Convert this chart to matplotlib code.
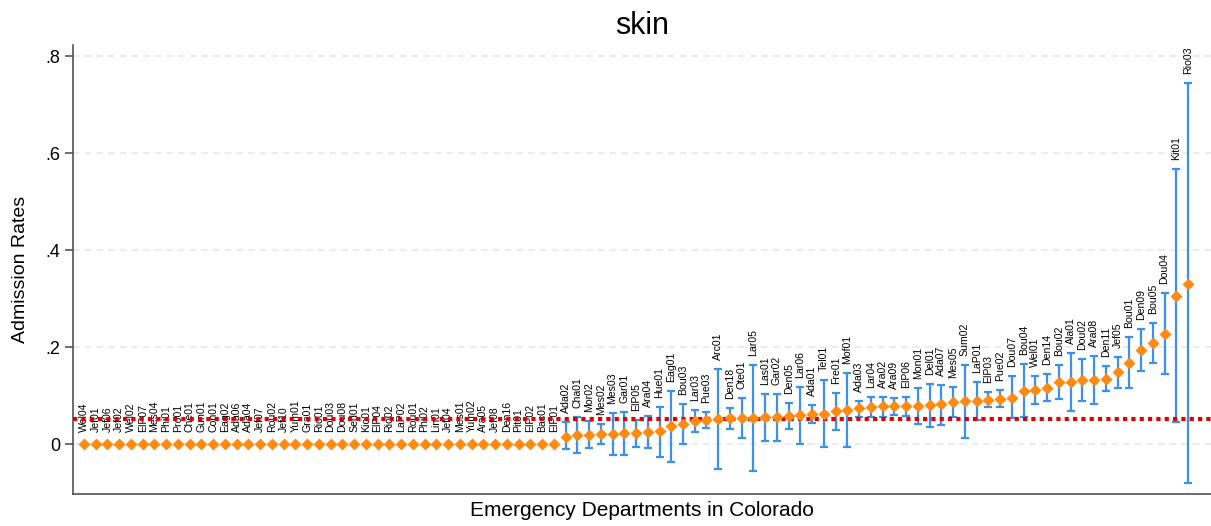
import numpy as np
import matplotlib
matplotlib.use("Agg")
import matplotlib.pyplot as plt

plt.rcParams["font.family"] = ["Liberation Sans", "DejaVu Sans"]

# departments with no admissions (rate 0, no interval)
zero_names = [
    "Wel04", "Jef01", "Jef06", "Jef02", "Wel02", "ElP07", "Mes04", "Phi01", "Pro01", "Che01",
    "Gun01", "Con01", "Eag02", "Ada06", "Ada04", "Jef07", "Rou02", "Jef10", "Yum01", "Gra01",
    "Rio01", "Dou03", "Dou08", "Sed01", "Kio01", "ElP04", "Rio02", "LaP02", "Rou01", "Phi02",
    "Lin01", "Jef04", "Mes01", "Yum02", "Ara05", "Jef08", "Den16", "Pit01", "ElP02", "Bac01",
    "ElP01",
]

names = [
    "Ada02", "Cha01", "Mor02", "Mes02", "Mes03", "Gar01", "ElP05", "Ara04", "Hue01", "Eag01",
    "Bou03", "Lar03", "Pue03", "Arc01", "Den18", "Ote01", "Lar05", "Las01", "Gar02", "Den05",
    "Lar06", "Ada01", "Tel01", "Fre01", "Mof01", "Ada03", "Lar04", "Ara02", "Ara09", "ElP06",
    "Mon01", "Del01", "Ada07", "Mes05", "Sum02", "LaP01", "ElP03", "Pue02", "Dou07", "Bou04",
    "Wel01", "Den14", "Bou02", "Ala01", "Dou02", "Ara08", "Den11", "Jef05", "Bou01", "Den09",
    "Bou05", "Dou04", "Kit01", "Rio03",
]
rate = [
    0.015, 0.019, 0.019, 0.021, 0.021, 0.022, 0.023, 0.024, 0.026, 0.037,
    0.041, 0.048, 0.049, 0.052, 0.053, 0.053, 0.053, 0.055, 0.055, 0.058,
    0.060, 0.062, 0.063, 0.069, 0.070, 0.074, 0.076, 0.078, 0.078, 0.078,
    0.078, 0.080, 0.082, 0.087, 0.089, 0.089, 0.091, 0.093, 0.096, 0.110,
    0.112, 0.116, 0.128, 0.128, 0.132, 0.132, 0.135, 0.149, 0.168, 0.194,
    0.209, 0.228, 0.306, 0.331,
]
upper = [
    0.045, 0.056, 0.047, 0.042, 0.065, 0.066, 0.049, 0.057, 0.077, 0.109,
    0.082, 0.071, 0.067, 0.155, 0.074, 0.094, 0.164, 0.103, 0.104, 0.085,
    0.118, 0.080, 0.133, 0.106, 0.146, 0.089, 0.097, 0.098, 0.094, 0.097,
    0.115, 0.123, 0.121, 0.118, 0.164, 0.128, 0.107, 0.111, 0.140, 0.165,
    0.141, 0.144, 0.164, 0.188, 0.175, 0.181, 0.161, 0.180, 0.220, 0.237,
    0.249, 0.312, 0.568, 0.745,
]
lower = [
    -0.010, -0.019, -0.009, 0.000, -0.023, -0.023, -0.006, -0.009, -0.026, -0.036,
    0.000, 0.024, 0.034, -0.052, 0.031, 0.012, -0.055, 0.007, 0.007, 0.032,
    0.001, 0.044, -0.007, 0.029, -0.007, 0.055, 0.055, 0.056, 0.060, 0.058,
    0.041, 0.035, 0.039, 0.056, 0.013, 0.049, 0.076, 0.076, 0.053, 0.055,
    0.082, 0.089, 0.092, 0.069, 0.089, 0.082, 0.110, 0.116, 0.115, 0.151,
    0.168, 0.144, 0.046, -0.080,
]
overall_rate = 0.052

yticks = [0, 0.2, 0.4, 0.6, 0.8]
ytick_labels = ["0", ".2", ".4", ".6", ".8"]

orange = "#ff8a12"
blue = "#3b8ff0"

fig = plt.figure(figsize=(12.11, 5.26), dpi=100)
ax = fig.add_axes([73 / 1211, 32 / 526, 1138 / 1211, 449 / 526])

n0 = len(zero_names)
x0 = np.arange(n0)
x1 = np.arange(n0, n0 + len(names))
rate = np.array(rate)
upper = np.array(upper)
lower = np.array(lower)

ax.errorbar(x1, rate, yerr=[rate - lower, upper - rate], fmt="none",
            ecolor=blue, elinewidth=1.6, capsize=3.1, capthick=1.6, zorder=2)
ax.axhline(overall_rate, color="#e00000", lw=3, dashes=(1, 1),
           dash_capstyle="butt", zorder=3.5)
ax.plot(x0, np.zeros(n0), "D", color=orange, ms=6.6, mec="none", zorder=4)
ax.plot(x1, rate, "D", color=orange, ms=6.6, mec="none", zorder=4)

for xi, nm in zip(x0, zero_names):
    ax.annotate(nm, (xi, 0), xytext=(0, 8.5), textcoords="offset points",
                rotation=90, ha="center", va="bottom", fontsize=7.6, zorder=3)
for xi, nm, up in zip(x1, names, upper):
    ax.annotate(nm, (xi, up), xytext=(0, 6.5), textcoords="offset points",
                rotation=90, ha="center", va="bottom", fontsize=7.6, zorder=3)

ax.set_xlim(-0.93, n0 + len(names) + 0.95)
ax.set_ylim(-0.103, 0.823)
ax.set_yticks(yticks)
ax.set_yticklabels(ytick_labels, fontsize=13)
ax.set_xticks([])
for v in yticks:
    ax.axhline(v, color="#e9e9e9", lw=1.2, dashes=(4, 3), zorder=1)

for s in ["top", "right"]:
    ax.spines[s].set_visible(False)
for s in ["left", "bottom"]:
    ax.spines[s].set_color("#444444")
    ax.spines[s].set_linewidth(1.1)
ax.tick_params(axis="y", length=6, width=1.1, color="#444444", pad=3)

ax.set_title("skin", fontsize=22, pad=8)
ax.set_ylabel("Admission Rates", fontsize=14, labelpad=12)
ax.set_xlabel("Emergency Departments in Colorado", fontsize=15, labelpad=5)

fig.savefig("out.png", dpi=100)
